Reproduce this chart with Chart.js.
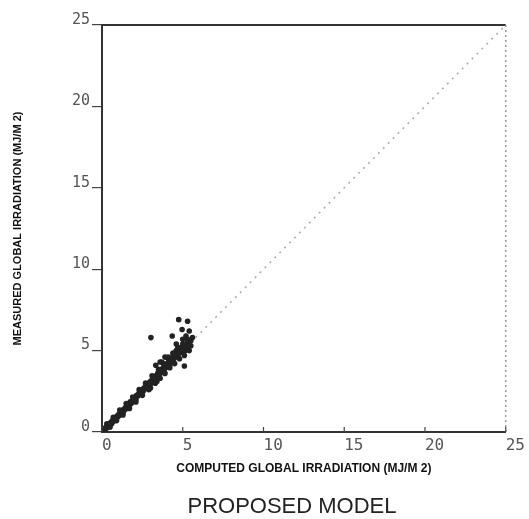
<!DOCTYPE html>
<html>
<head>
<meta charset="utf-8">
<script src="https://cdn.jsdelivr.net/npm/chart.js@4/dist/chart.umd.min.js"></script>
<style>
html,body{margin:0;padding:0;background:#fff;}
#wrap{width:529px;height:519px;}
</style>
</head>
<body>
<div id="wrap"><canvas id="c" width="529" height="519"></canvas></div>
<script>
// ---- data ----
const computed = [
 0.10,0.15,0.20,0.25,0.30,0.35,0.40,0.45,0.50,0.55,0.60,0.65,0.70,0.75,0.80,0.85,0.90,0.95,1.00,1.05,
 1.10,1.15,1.20,1.25,1.30,1.35,1.40,1.45,1.50,1.55,1.60,1.65,1.70,1.75,1.80,1.85,1.90,1.95,2.00,2.05,
 2.10,2.15,2.20,2.25,2.30,2.35,2.40,2.45,2.50,2.55,2.60,2.65,2.70,2.75,2.80,2.85,2.90,2.95,3.00,3.05,
 3.10,3.15,3.20,3.25,3.30,3.35,3.40,3.45,3.50,3.55,3.60,3.65,3.70,3.75,3.80,3.85,3.90,3.95,4.00,4.05,
 4.10,4.15,4.20,4.25,4.30,4.35,4.40,4.45,4.50,4.55,4.60,4.65,4.70,4.75,4.80,4.85,4.90,4.95,5.00,5.05,
 5.10,5.15,5.20,5.25,5.30,5.40,5.50,
 0.30,0.50,0.70,0.90,1.10,1.30,1.50,1.70,1.90,2.10,2.30,2.50,2.70,2.90,3.10,3.30,3.50,3.60,3.80,3.90,
 4.10,4.20,4.40,4.50,4.70,4.80,5.00,5.10,5.30,5.40,5.50,3.60,3.90,4.60,5.00,
 3.00,3.40,3.33,3.70,4.10,4.40,4.60,
 3.03,4.35,4.75,5.30,4.96,5.40,5.20,5.10,5.60
];
const measured = [
 0.10,0.20,0.15,0.30,0.25,0.40,0.35,0.50,0.45,0.60,0.50,0.70,0.65,0.80,0.75,0.90,0.85,1.00,0.95,1.10,
 1.05,1.20,1.15,1.30,1.20,1.40,1.35,1.50,1.45,1.60,1.55,1.70,1.65,1.85,1.75,1.90,1.85,2.00,2.05,2.10,
 2.00,2.25,2.20,2.30,2.40,2.30,2.50,2.45,2.60,2.50,2.70,2.65,2.80,2.75,2.90,2.95,2.85,3.05,3.10,3.00,
 3.20,3.30,3.15,3.35,3.40,3.30,3.50,3.60,3.45,3.70,3.60,3.80,3.70,3.90,3.75,4.00,3.90,4.10,4.00,4.20,
 4.10,4.30,4.40,4.20,4.50,4.40,4.60,4.50,4.70,4.60,4.80,4.90,4.70,5.00,4.85,5.10,4.95,5.20,5.10,4.90,
 5.30,5.00,5.40,5.20,5.50,5.30,5.60,
 0.50,0.30,0.90,0.70,1.35,1.05,1.75,1.45,2.15,1.85,2.60,2.25,3.00,2.60,3.45,3.00,3.85,3.30,4.20,3.60,
 4.50,3.95,4.85,4.20,5.20,4.50,5.40,4.70,5.70,5.00,5.30,4.30,4.60,5.40,5.70,
 2.70,3.10,4.10,4.30,4.60,4.80,5.00,
 5.80,5.90,6.90,6.80,6.30,6.20,5.90,4.05,5.80
];
const refLine = [0, 25];           // 1:1 line end values
const tickValues = [0, 5, 10, 15, 20, 25];
const xTitle = 'COMPUTED GLOBAL IRRADIATION (MJ/M 2)';
const yTitle = 'MEASURED GLOBAL IRRADIATION (MJ/M 2)';
const caption = 'PROPOSED MODEL';

const points = computed.map((x, i) => ({x: x, y: measured[i]}));
const linePts = refLine.map(v => ({x: v, y: v}));

const frame = {
  id: 'frame',
  afterDatasetsDraw(chart) {
    const {ctx, chartArea: a, scales: {x}} = chart;
    ctx.save();
    ctx.strokeStyle = '#333';
    ctx.lineWidth = 2;
    ctx.beginPath(); ctx.moveTo(a.left, a.top); ctx.lineTo(a.right, a.top); ctx.stroke();
    ctx.strokeStyle = '#999';
    ctx.lineWidth = 1.5;
    ctx.setLineDash([2, 3]);
    ctx.beginPath(); ctx.moveTo(a.right, a.top); ctx.lineTo(a.right, a.bottom); ctx.stroke();
    ctx.setLineDash([]);
    ctx.strokeStyle = '#444';
    ctx.lineWidth = 1.2;
    tickValues.forEach(v => {
      const px = x.getPixelForValue(v);
      ctx.beginPath(); ctx.moveTo(px, a.bottom); ctx.lineTo(px, a.bottom - 5); ctx.stroke();
    });
    ctx.restore();
  },
  afterDraw(chart) {
    const {ctx} = chart;
    ctx.save();
    ctx.fillStyle = '#222';
    ctx.font = '22px "Liberation Sans", Arial, sans-serif';
    ctx.textAlign = 'center';
    ctx.textBaseline = 'middle';
    ctx.fillText(caption, 292, 507);
    ctx.restore();
  }
};

new Chart(document.getElementById('c'), {
  data: {
    datasets: [
      {
        type: 'line',
        data: linePts,
        borderColor: '#a8a8a8',
        borderWidth: 1.5,
        borderDash: [2, 5],
        pointRadius: 0,
        fill: false,
        order: 2
      },
      {
        type: 'scatter',
        data: points,
        backgroundColor: '#222',
        borderWidth: 0,
        pointRadius: 2.8,
        pointStyle: 'circle',
        order: 1
      }
    ]
  },
  plugins: [frame],
  options: {
    responsive: false,
    animation: false,
    devicePixelRatio: 1,
    layout: {padding: {left: 0, top: 25, right: 17, bottom: 0}},
    plugins: {legend: {display: false}, tooltip: {enabled: false}, title: {display: false}},
    scales: {
      x: {
        type: 'linear',
        min: 0, max: 25,
        afterBuildTicks: s => { s.ticks = tickValues.map(v => ({value: v})); },
        afterFit: s => { s.height = 87; },
        grid: {display: false, drawTicks: false},
        border: {display: true, color: '#333', width: 2},
        ticks: {
          align: 'start',
          padding: 4,
          color: '#555',
          font: {family: '"DejaVu Sans Mono", monospace', size: 16},
          callback: v => String(v)
        },
        title: {
          display: true,
          text: xTitle,
          color: '#111',
          font: {family: '"Liberation Sans", Arial, sans-serif', size: 12, weight: 'bold'},
          padding: {top: 0, bottom: 43}
        }
      },
      y: {
        type: 'linear',
        min: 0, max: 25,
        afterBuildTicks: s => { s.ticks = tickValues.map(v => ({value: v})); },
        afterFit: s => { s.width = 102; },
        grid: {display: true, drawOnChartArea: false, drawTicks: true, tickLength: 10, color: '#444', lineWidth: 1.2},
        border: {display: true, color: '#333', width: 2},
        ticks: {
          padding: 2,
          labelOffset: -5,
          color: '#555',
          font: {family: '"DejaVu Sans Mono", monospace', size: 15},
          callback: v => String(v)
        },
        title: {
          display: true,
          text: yTitle,
          color: '#111',
          font: {family: '"Liberation Sans", Arial, sans-serif', size: 11, weight: 'bold'},
          padding: {top: 11, bottom: 0}
        }
      }
    }
  }
});
</script>
</body>
</html>
